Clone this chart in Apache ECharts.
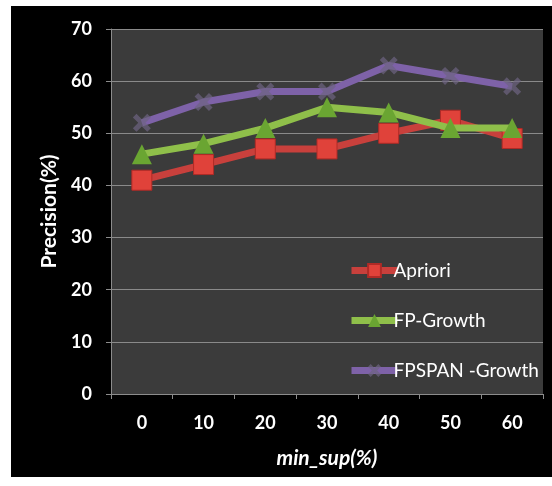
<!DOCTYPE html>
<html><head><meta charset="utf-8">
<script src="https://cdn.jsdelivr.net/npm/echarts@6/dist/echarts.min.js"></script>
<style>
html,body{margin:0;padding:0;background:#fff;}
#bg{position:absolute;left:11px;top:6px;width:541px;height:471px;background:#000;}
#c{position:absolute;left:0;top:0;width:552px;height:486px;}
</style></head>
<body><div id="bg"></div><div id="c"></div>
<script>
const categories = ['0','10','20','30','40','50','60'];
const apriori = [41, 44, 47, 47, 50, 52.5, 49];
const fpGrowth = [46, 48, 51, 55, 54, 51, 51];
const fpspan = [52, 56, 58, 58, 63, 61, 59];
const yTicks = {min: 0, max: 70, interval: 10};

const crossPath = 'path://M2,0 L5,3 L8,0 L10,2 L7,5 L10,8 L8,10 L5,7 L2,10 L0,8 L3,5 L0,2 Z';
const font = 'Lato, "Open Sans", sans-serif';

const chart = echarts.init(document.getElementById('c'), null, {renderer: 'canvas'});
chart.setOption({
  backgroundColor: 'transparent',
  animation: false,
  grid: {left: 111, right: 9, top: 29, bottom: 92, show: true, backgroundColor: '#3b3b3b', borderWidth: 0},
  legend: {
    orient: 'vertical', left: 343, top: 256, itemGap: 31, itemWidth: 46, itemHeight: 16,
    lineStyle: {width: 7},
    textStyle: {color: '#fff', fontFamily: font, fontSize: 19, padding: [0,0,0,-9]},
    data: ['Apriori', 'FP-Growth', 'FPSPAN -Growth']
  },
  xAxis: {
    type: 'category', data: categories, boundaryGap: true,
    name: 'min_sup(%)', nameLocation: 'middle', nameGap: 54,
    nameTextStyle: {color: '#fff', fontFamily: font, fontSize: 21, fontWeight: 'bold', fontStyle: 'italic'},
    axisLine: {show: true, lineStyle: {color: '#8c8c8c', width: 1}},
    axisTick: {show: true, length: 5, lineStyle: {color: '#8c8c8c'}},
    axisLabel: {color: '#fff', fontFamily: font, fontSize: 18, fontWeight: 'bold', margin: 20}
  },
  yAxis: {
    type: 'value', min: yTicks.min, max: yTicks.max, interval: yTicks.interval,
    name: 'Precision(%)', nameLocation: 'middle', nameGap: 40, nameRotate: 90,
    nameTextStyle: {color: '#fff', fontFamily: font, fontSize: 21, fontWeight: 'bold'},
    axisLine: {show: true, lineStyle: {color: '#8c8c8c', width: 1}},
    axisTick: {show: true, length: 5, lineStyle: {color: '#8c8c8c'}},
    axisLabel: {color: '#fff', fontFamily: font, fontSize: 18, fontWeight: 'bold', margin: 19},
    splitLine: {show: true, lineStyle: {color: '#8a8a8a', width: 1}}
  },
  series: [
    {name: 'FPSPAN -Growth', type: 'line', data: fpspan, z: 2,
     lineStyle: {color: '#7e62a8', width: 7}, itemStyle: {color: 'rgba(110,100,130,0.7)'},
     symbol: crossPath, symbolSize: 18},
    {name: 'Apriori', type: 'line', data: apriori, z: 3,
     lineStyle: {color: '#c8403c', width: 7}, itemStyle: {color: '#e0423a', borderColor: '#b02a26', borderWidth: 1},
     symbol: 'rect', symbolSize: 20},
    {name: 'FP-Growth', type: 'line', data: fpGrowth, z: 4,
     lineStyle: {color: '#8fbf4a', width: 7}, itemStyle: {color: '#6aa532'},
     symbol: 'triangle', symbolSize: [20, 20]}
  ]
});
</script></body></html>
